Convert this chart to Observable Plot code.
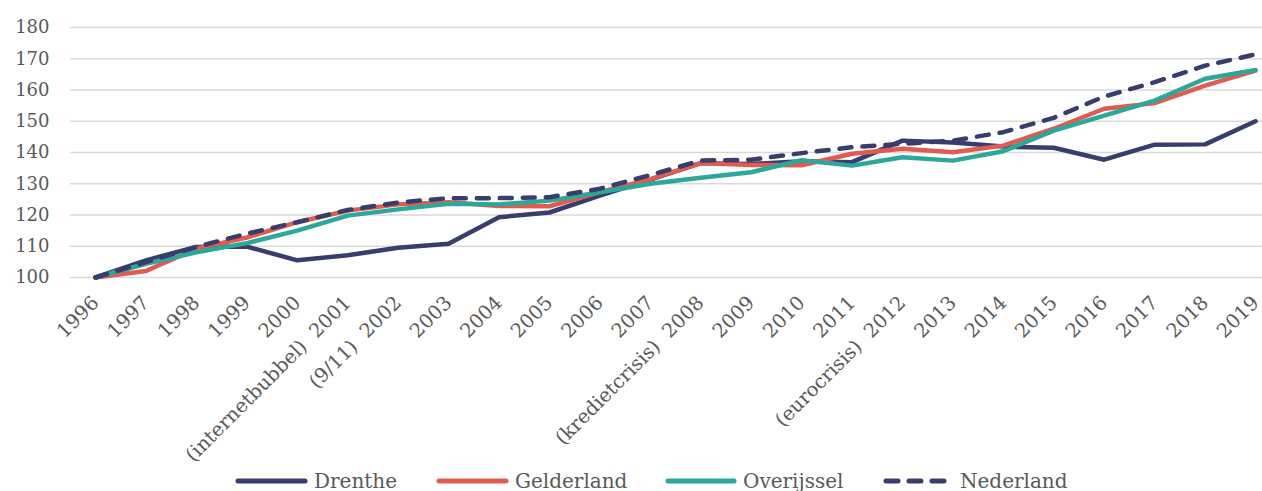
<!DOCTYPE html>
<html>
<head>
<meta charset="utf-8">
<script src="https://cdn.jsdelivr.net/npm/d3@7"></script>
<script src="https://cdn.jsdelivr.net/npm/@observablehq/plot@0.6"></script>
<style>
  html, body { margin: 0; padding: 0; background: #fff; }
  body { width: 1262px; height: 491px; overflow: hidden; font-family: "DejaVu Serif", serif; }
  #legend { height: 25px; color: #595959; font-size: 20px; position: relative; }
  .item { position: absolute; display: flex; align-items: center; top: 2px; height: 25px; }
  .item svg { margin-right: 6px; }
</style>
</head>
<body>
<div id="chart"></div>
<div id="legend"></div>
<script>
const years = [1996,1997,1998,1999,2000,2001,2002,2003,2004,2005,2006,2007,2008,2009,2010,2011,2012,2013,2014,2015,2016,2017,2018,2019];
const yearLabels = ["1996","1997","1998","1999","2000","(internetbubbel)  2001","(9/11)  2002","2003","2004","2005","2006","2007","(kredietcrisis)  2008","2009","2010","2011","(eurocrisis)  2012","2013","2014","2015","2016","2017","2018","2019"];
const seriesNames = ["Drenthe","Gelderland","Overijssel","Nederland"];
const drenthe    = [100,105.5,109.8,109.9,105.5,107.1,109.5,110.8,119.3,120.8,126.2,131.3,136.6,136.3,137.2,136.9,143.8,143.2,141.9,141.5,137.7,142.5,142.6,150.0];
const gelderland = [100,102.1,109.2,112.8,117.7,121.4,123.4,124.1,122.9,122.8,127.3,131.5,136.6,136.0,135.9,139.6,141.2,140.1,142.2,147.6,154.0,155.8,161.4,166.2];
const overijssel = [100,104.4,108.1,111.0,115.0,119.8,121.8,123.6,123.4,124.6,127.3,130.0,131.9,133.7,137.5,135.8,138.5,137.4,140.4,147.0,151.8,156.6,163.6,166.4];
const nederland  = [100,104.9,109.8,114.0,117.7,121.6,124.0,125.4,125.4,125.7,128.4,132.8,137.4,137.7,139.8,141.7,142.8,143.8,146.5,151.1,157.9,162.5,167.8,171.4];
const yTicks = [100,110,120,130,140,150,160,170,180];
const colors = ["#383d6e","#e15b50","#2ba89a","#383d6e"];
const dashes = [null,null,null,"12,11"];

const valuesList = [drenthe, gelderland, overijssel, nederland];
const rows = [];
seriesNames.forEach((name, i) => {
  years.forEach((yr, j) => rows.push({series: name, year: yr, value: valuesList[i][j]}));
});
const labelOf = new Map(years.map((y, i) => [y, yearLabels[i]]));

const lineMarks = seriesNames.map((name, i) =>
  Plot.line(rows.filter(d => d.series === name), {
    x: "year", y: "value",
    stroke: colors[i], strokeWidth: 4.5,
    strokeDasharray: dashes[i] || undefined,
    strokeLinecap: "round", strokeLinejoin: "round"
  })
);

const chart = Plot.plot({
  width: 1262,
  height: 466,
  marginLeft: 70,
  marginRight: 0,
  marginTop: 27,
  marginBottom: 189,
  style: {fontFamily: "DejaVu Serif, serif", color: "#595959", background: "#fff", overflow: "visible"},
  x: {domain: [1996, 2019], insetLeft: 25, insetRight: 7},
  y: {domain: [100, 180]},
  marks: [
    Plot.ruleY(yTicks, {stroke: "#d9d9d9", strokeWidth: 1.5}),
    Plot.axisY({ticks: yTicks, tickSize: 0, tickPadding: 21, fontSize: 18, fill: "#595959", label: null}),
    Plot.axisX({ticks: years, tickSize: 0, tickPadding: 22, tickRotate: -45, textAnchor: "end", dx: 0, fontSize: 19.5, fill: "#595959", label: null, tickFormat: d => labelOf.get(d)}),
    ...lineMarks
  ]
});
document.getElementById("chart").appendChild(chart);

// legend
const legend = document.getElementById("legend");
const positions = [235, 436, 665, 883];
const swW = [73, 73, 72, 64];
seriesNames.forEach((name, i) => {
  const item = document.createElement("div");
  item.className = "item";
  item.style.left = positions[i] + "px";
  const w = swW[i];
  const dash = i === 3 ? `stroke-dasharray="12,11" ` : "";
  item.innerHTML = `<svg width="${w}" height="10"><line x1="3" x2="${w-3}" y1="5" y2="5" stroke="${colors[i]}" stroke-width="5" stroke-linecap="round" ${dash}/></svg><span style="margin-left:${i===3?7:0}px">${name}</span>`;
  legend.appendChild(item);
});
</script>
</body>
</html>
